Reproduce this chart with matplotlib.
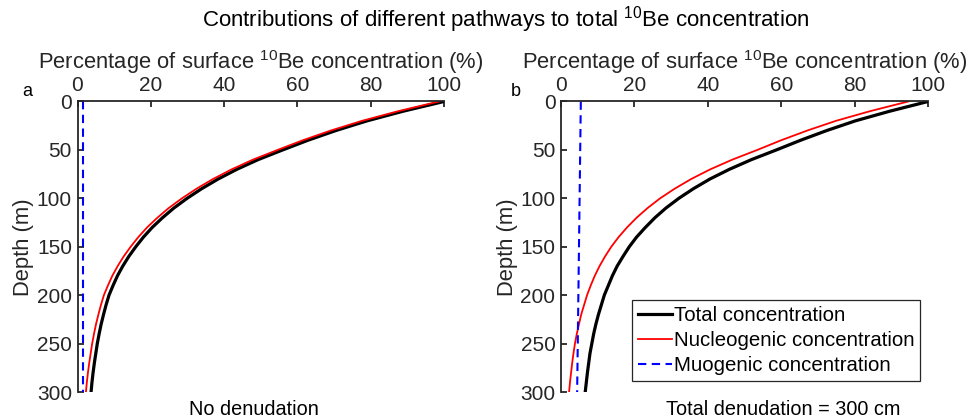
import matplotlib
matplotlib.use("Agg")
import matplotlib.pyplot as plt

plt.rcParams['font.family'] = ['Liberation Sans', 'DejaVu Sans']
plt.rcParams['mathtext.fontset'] = 'custom'
plt.rcParams['mathtext.rm'] = 'Liberation Sans'
plt.rcParams['mathtext.it'] = 'Liberation Sans'

# Depth below surface (m)
depth = [0, 10, 20, 30, 40, 50, 60, 70, 80, 90, 100,
         110, 120, 130, 140, 150, 160, 170, 180, 190, 200,
         210, 220, 230, 240, 250, 260, 270, 280, 290, 300]

# (a) no denudation: percentage of surface 10Be concentration
total_a = [100, 88.9, 79.0, 70.5, 62.9, 56.0, 49.3, 43.5, 38.4, 33.9, 29.9,
           26.3, 23.2, 20.4, 18.0, 15.9, 14.0, 12.35, 10.9, 9.7, 8.6,
           7.8, 7.1, 6.45, 5.9, 5.4, 5.0, 4.6, 4.25, 3.95, 3.7]
nucleo_a = [98.6, 87.5, 77.6, 69.1, 61.5, 54.6, 47.9, 42.1, 37.0, 32.5, 28.5,
            24.9, 21.8, 19.0, 16.6, 14.5, 12.6, 10.95, 9.5, 8.3, 7.2,
            6.4, 5.7, 5.05, 4.5, 4.0, 3.6, 3.2, 2.85, 2.55, 2.3]
muo_a = [1.4, 1.4, 1.4, 1.4, 1.4, 1.4, 1.4, 1.4, 1.4, 1.4, 1.4,
         1.4, 1.4, 1.4, 1.4, 1.4, 1.4, 1.4, 1.4, 1.4, 1.4,
         1.4, 1.4, 1.4, 1.4, 1.4, 1.4, 1.4, 1.4, 1.4, 1.4]

# (b) total denudation = 300 cm
total_b = [100, 89.6, 80.2, 72.4, 65.3, 58.7, 51.9, 45.9, 40.6, 36.1, 32.1,
           28.6, 25.6, 23.0, 20.6, 18.6, 16.9, 15.3, 14.0, 12.9, 11.8,
           11.0, 10.2, 9.5, 8.9, 8.4, 7.9, 7.55, 7.2, 6.9, 6.6]
nucleo_b = [94.6, 84.2, 74.9, 67.1, 60.0, 53.5, 46.7, 40.7, 35.5, 31.0, 27.0,
            23.6, 20.6, 18.0, 15.7, 13.7, 12.0, 10.5, 9.2, 8.1, 7.1,
            6.3, 5.5, 4.9, 4.3, 3.8, 3.4, 3.05, 2.75, 2.45, 2.2]
muo_b = [5.4, 5.37, 5.33, 5.3, 5.27, 5.23, 5.2, 5.17, 5.13, 5.1, 5.07,
         5.03, 5.0, 4.97, 4.93, 4.9, 4.87, 4.83, 4.8, 4.77, 4.73,
         4.7, 4.67, 4.63, 4.6, 4.57, 4.53, 4.5, 4.47, 4.43, 4.4]

xticks = [0, 20, 40, 60, 80, 100]
yticks = [0, 50, 100, 150, 200, 250, 300]

GRAY = '#262626'
TICK_FS = 15
LABEL_FS = 15.8

fig = plt.figure(figsize=(9.76, 4.19), dpi=100)
W, H = 976, 419


def add_axes_px(x0, x1, y0, y1):
    return fig.add_axes([x0 / W, 1 - y1 / H, (x1 - x0) / W, (y1 - y0) / H])


axa = add_axes_px(77.5, 444, 101.5, 392)
axb = add_axes_px(561, 928, 101.5, 392)

panels = [
    (axa, total_a, nucleo_a, muo_a),
    (axb, total_b, nucleo_b, muo_b),
]

for ax, tot, nuc, muo in panels:
    l1, = ax.plot(tot, depth, color='black', lw=2.3, label='Total concentration')
    l2, = ax.plot(nuc, depth, color='#ff0000', lw=1.3, label='Nucleogenic concentration')
    l3, = ax.plot(muo, depth, color='#0000ff', lw=1.5, ls=(0, (4, 2.6)),
                  label='Muogenic concentration')
    ax.set_xlim(0, 100)
    ax.set_ylim(300, 0)
    ax.set_xticks(xticks)
    ax.set_yticks(yticks)
    ax.xaxis.tick_top()
    ax.xaxis.set_label_position('top')
    for s in ['right', 'bottom']:
        ax.spines[s].set_visible(False)
    for s in ['left', 'top']:
        ax.spines[s].set_color(GRAY)
        ax.spines[s].set_linewidth(1.3)
    ax.tick_params(direction='in', length=4, width=1.3, colors=GRAY,
                   labelsize=TICK_FS)
    ax.tick_params(axis='x', pad=5)
    ax.tick_params(axis='y', pad=4)
    ax.set_xlabel(r'Percentage of surface $^{10}$Be concentration (%)',
                  fontsize=LABEL_FS, color=GRAY, labelpad=5)
    ax.set_ylabel('Depth (m)', fontsize=LABEL_FS, color=GRAY, labelpad=2)

leg = axb.legend(handles=[l1, l2, l3], loc='lower right',
                 bbox_to_anchor=((920 - 561) / 367, (392 - 381) / 290.5),
                 fontsize=14.7, frameon=True, fancybox=False, borderpad=0.28,
                 handlelength=1.65, handletextpad=0.1, labelspacing=0.3,
                 borderaxespad=0, framealpha=1)
leg.get_frame().set_edgecolor(GRAY)
leg.get_frame().set_linewidth(0.9)

fig.text(506 / W, 1 - 20 / H,
         r'Contributions of different pathways to total $^{\mathregular{10}}$Be concentration',
         ha='center', va='center', fontsize=16)
fig.text(27 / W, 1 - 92 / H, 'a', ha='center', va='center', fontsize=13)
fig.text(516 / W, 1 - 92 / H, 'b', ha='center', va='center', fontsize=13)
fig.text(254 / W, 1 - 409 / H, 'No denudation', ha='center', va='center', fontsize=14.3)
fig.text(783 / W, 1 - 409 / H, 'Total denudation = 300 cm', ha='center', va='center',
         fontsize=14.3)

fig.savefig('out.png', dpi=100)
